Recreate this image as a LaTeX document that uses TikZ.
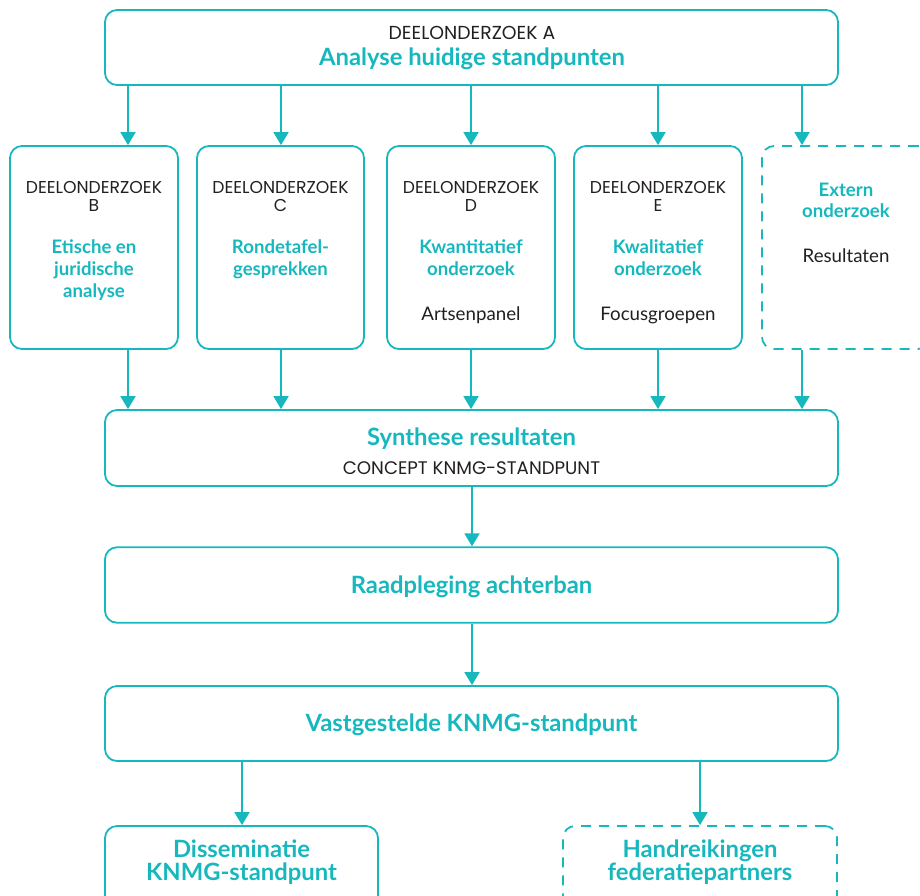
\documentclass[tikz,border=0pt]{standalone}
\usepackage{fontspec}
\setmainfont{Lato}
\newfontfamily\popfont{Poppins}
\usetikzlibrary{arrows.meta}
\definecolor{tealc}{RGB}{22,184,190}
\definecolor{ink}{RGB}{35,31,32}
\tikzset{
  box/.style={draw=tealc, line width=1.8pt, rounded corners=12pt, minimum width=#1, inner sep=0pt},
  dbox/.style={box=#1, dash pattern=on 10pt off 8pt},
  arr/.style={draw=tealc, line width=1.8pt, -{Triangle[length=13pt,width=15pt]}},
  bigtxt/.style={text=tealc, font=\fontsize{23.8}{26}\selectfont\bfseries, anchor=base, inner sep=0pt},
  midtxt/.style={text=tealc, font=\fontsize{18.6}{21}\selectfont\bfseries, anchor=base, inner sep=0pt},
  regtxt/.style={text=ink, font=\fontsize{18.7}{21}\selectfont, anchor=base, inner sep=0pt},
  captxt/.style={text=ink, font=\popfont\fontsize{17.2}{20}\selectfont, anchor=base, inner sep=0pt},
  captop/.style={captxt, font=\popfont\fontsize{18.8}{21}\selectfont},
  capsyn/.style={captxt, font=\popfont\fontsize{18.2}{21}\selectfont},
}
\begin{document}
\begin{tikzpicture}[x=1pt,y=-1pt]
\useasboundingbox (0,0) rectangle (920,895);
\clip (0,0) rectangle (920,895);
% boxes
\node[box=733pt, minimum height=75pt] (A) at (471.5,47.5) {};
\node[box=168pt, minimum height=203pt] (B) at (94,247.5) {};
\node[box=167pt, minimum height=203pt] (C) at (280.5,247.5) {};
\node[box=168pt, minimum height=203pt] (D) at (471,247.5) {};
\node[box=168pt, minimum height=203pt] (E) at (658,247.5) {};
\node[dbox=168pt, minimum height=203pt] (X) at (846,247.5) {};
\node[box=733pt, minimum height=76pt] (S) at (471.5,448) {};
\node[box=733pt, minimum height=75.5pt] (R) at (471.5,585) {};
\node[box=733pt, minimum height=75pt] (V) at (471.5,723.5) {};
\node[box=273pt, minimum height=110pt] (Dis) at (241.5,881) {};
\node[dbox=274pt, minimum height=110pt] (H) at (700,881) {};
% texts
\node[captop] (tA1) at (472,39.3) {DEELONDERZOEK A};
\node[bigtxt] (tA2) at (472,65) {Analyse huidige standpunten};
\node[captxt] (tB1) at (94,193.3) {DEELONDERZOEK};
\node[captxt] (tB2) at (94,211) {B};
\node[midtxt] (tB3) at (94,253.3) {Etische en};
\node[midtxt] (tB4) at (94,275) {juridische};
\node[midtxt] (tB5) at (94,297) {analyse};
\node[captxt] (tC1) at (280.5,193.3) {DEELONDERZOEK};
\node[captxt] (tC2) at (280.5,211) {C};
\node[midtxt] (tC3) at (280.5,253.3) {Rondetafel-};
\node[midtxt] (tC4) at (280.5,275) {gesprekken};
\node[captxt] (tD1) at (471,193.3) {DEELONDERZOEK};
\node[captxt] (tD2) at (471,211) {D};
\node[midtxt] (tD3) at (471,253.3) {Kwantitatief};
\node[midtxt] (tD4) at (471,275) {onderzoek};
\node[regtxt] (tD5) at (471,320) {Artsenpanel};
\node[captxt] (tE1) at (658,193.3) {DEELONDERZOEK};
\node[captxt] (tE2) at (658,211) {E};
\node[midtxt] (tE3) at (658,253.3) {Kwalitatief};
\node[midtxt] (tE4) at (658,275) {onderzoek};
\node[regtxt] (tE5) at (658,320) {Focusgroepen};
\node[midtxt] (tX1) at (846,196) {Extern};
\node[midtxt] (tX2) at (846,217.7) {onderzoek};
\node[regtxt] (tX3) at (846,262.7) {Resultaten};
\node[bigtxt] (tS1) at (471.5,445) {Synthese resultaten};
\node[capsyn] (tS2) at (471.5,474) {CONCEPT KNMG-STANDPUNT};
\node[bigtxt] (tR) at (471.5,593.3) {Raadpleging achterban};
\node[bigtxt] (tV) at (471.5,731.7) {Vastgestelde KNMG-standpunt};
\node[bigtxt] (tDis1) at (241.5,857) {Disseminatie};
\node[bigtxt] (tDis2) at (241.5,880) {KNMG-standpunt};
\node[bigtxt] (tH1) at (700,857) {Handreikingen};
\node[bigtxt] (tH2) at (700,880) {federatiepartners};
% arrows
\draw[arr] (A.south -| 128,0) -- (B.north -| 128,0);
\draw[arr] (A.south -| 281,0) -- (C.north -| 281,0);
\draw[arr] (A.south -| D.north) -- (D.north);
\draw[arr] (A.south -| E.north) -- (E.north);
\draw[arr] (A.south -| 802,0) -- (X.north -| 802,0);
\draw[arr] (B.south -| 128,0) -- (S.north -| 128,0);
\draw[arr] (C.south -| 281,0) -- (S.north -| 281,0);
\draw[arr] (D.south) -- (S.north -| D.south);
\draw[arr] (E.south) -- (S.north -| E.south);
\draw[arr] (X.south -| 802,0) -- (S.north -| 802,0);
\draw[arr] (S.south -| 472,0) -- (R.north -| 472,0);
\draw[arr] (R.south -| 472,0) -- (V.north -| 472,0);
\draw[arr] (V.south -| 242,0) -- (Dis.north -| 242,0);
\draw[arr] (V.south -| H.north) -- (H.north);
\end{tikzpicture}
\end{document}
